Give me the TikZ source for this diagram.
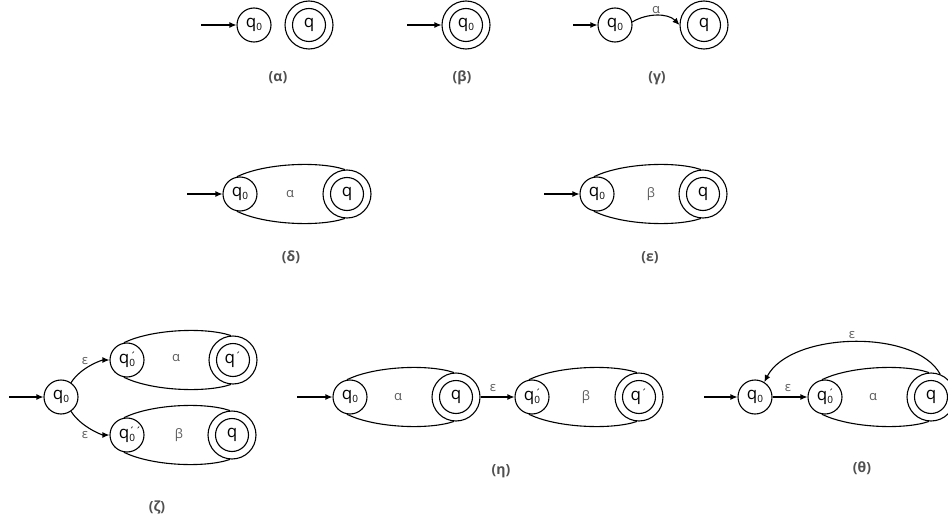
\documentclass[tikz,border=0pt]{standalone}
\usepackage{fontspec}
\setmainfont{Open Sans}
\usetikzlibrary{arrows.meta,calc}
\definecolor{capgray}{HTML}{505050}
\definecolor{lblgray}{HTML}{5A5A5A}
\newcommand\smallsub[1]{\raisebox{-2.5pt}{\fontsize{10}{10}\selectfont #1}}
\newcommand\smallacc[1]{\raisebox{3pt}{\fontsize{11}{11}\selectfont #1}}
\newcommand\qz{q\smallsub{0}}
\newcommand\qzp{q\rlap{\kern0.8pt\smallacc{´}}\smallsub{0}}
\newcommand\qzpp{q\rlap{\kern-0.4pt\smallacc{´´}}\smallsub{0}}
\newcommand\qpr{q\smallacc{´}}
\newcommand\blob[2]{%
  \draw[edge] (#1.100) .. controls ($(#1)+(25,-31)$) and ($(#2)+(-27,-33)$) .. (#2.95);
  \draw[edge] (#1.-100) .. controls ($(#1)+(25,31)$) and ($(#2)+(-27,33)$) .. (#2.-95);}
\begin{document}
\begin{tikzpicture}[x=1pt,y=-1pt,
  every node/.style={font=\fontsize{17}{19}\selectfont},
  st/.style={circle,draw,line width=1.1pt,minimum size=34pt,inner sep=0pt},
  acc/.style={circle,draw,line width=1.1pt,minimum size=48pt,inner sep=0pt,
    path picture={\draw[line width=1.1pt] (path picture bounding box.center) circle (16.5pt);}},
  edge/.style={line width=1.1pt},
  tr/.style={-{Latex[length=7pt,width=6pt]},line width=1.1pt},
  lbl/.style={text=lblgray,font=\fontsize{13}{15}\selectfont},
  capt/.style={text=capgray,font=\fontsize{14}{16}\selectfont\bfseries}]
\useasboundingbox (0,0) rectangle (948,519);
% (alpha)
\coordinate (a0) at (201,25);
\node[st] (a1) at (254,25) {\qz};
\node[acc] (a2) at (309,25) {q};
\draw[tr] (a0) -- (a1);
\node[capt] (ca) at (278,78) {(α)};
% (beta)
\coordinate (b0) at (407,25);
\node[acc] (b1) at (466,25) {\qz};
\draw[tr] (b0) -- (b1);
\node[capt] (cb) at (462,78) {(β)};
% (gamma)
\coordinate (g0) at (573,25);
\node[st] (g1) at (615,25) {\qz};
\node[acc] (g2) at (704,25) {q};
\draw[tr] (g0) -- (g1);
\draw[tr] (g1.10) .. controls ($(g1)+(32,-12)$) and ($(g2)+(-36,-12)$) .. (g2.180);
\node[lbl] (gl) at (656,10) {α};
\node[capt] (cg) at (657,78) {(γ)};
% (delta)
\coordinate (d0) at (187,194);
\node[st] (d1) at (240,194) {\qz};
\node[acc] (d2) at (347,194) {q};
\draw[tr] (d0) -- (d1);
\blob{d1}{d2}
\node[lbl] (dl) at (290,194) {α};
\node[capt] (cd) at (291,257) {(δ)};
% (epsilon)
\coordinate (e0) at (544,194);
\node[st] (e1) at (597,194) {\qz};
\node[acc] (e2) at (703,194) {q};
\draw[tr] (e0) -- (e1);
\blob{e1}{e2}
\node[lbl] (el) at (651,194) {β};
\node[capt] (ce) at (650,258) {(ε)};
% (zeta)
\coordinate (z0) at (9,397);
\node[st] (z1) at (61,397) {\qz};
\node[st] (z2) at (127,360) {\qzp};
\node[acc] (z3) at (233,360) {\qpr};
\node[st] (z4) at (127,435) {\qzpp};
\node[acc] (z5) at (232,435) {q};
\draw[tr] (z0) -- (z1);
\blob{z2}{z3}
\blob{z4}{z5}
\draw[tr] (z1.55) .. controls ($(z1)+(20,-30)$) and ($(z2)+(-25,0)$) .. (z2.180);
\draw[tr] (z1.-55) .. controls ($(z1)+(20,30)$) and ($(z4)+(-25,0)$) .. (z4.180);
\node[lbl] (zl1) at (85,361) {ε};
\node[lbl] (zl2) at (85,435) {ε};
\node[lbl] (zl3) at (176,358) {α};
\node[lbl] (zl4) at (179,435) {β};
\node[capt] (cz) at (157,507) {(ζ)};
% (eta)
\coordinate (h0) at (297,397);
\node[st] (h1) at (350,397) {\qz};
\node[acc] (h2) at (456,397) {q};
\node[st] (h3) at (532,397) {\qzp};
\node[acc] (h4) at (639,397) {\qpr};
\draw[tr] (h0) -- (h1);
\blob{h1}{h2}
\blob{h3}{h4}
\draw[tr] (h2) -- (h3);
\node[lbl] (hl1) at (398,397) {α};
\node[lbl] (hl2) at (493,388) {ε};
\node[lbl] (hl3) at (586,397) {β};
\node[capt] (ch) at (501,471) {(η)};
% (theta)
\coordinate (t0) at (704,397);
\node[st] (t1) at (755,397) {\qz};
\node[st] (t2) at (825,397) {\qzp};
\node[acc] (t3) at (931,397) {q};
\draw[tr] (t0) -- (t1);
\draw[tr] (t1) -- (t2);
\blob{t2}{t3}
\draw[tr] (t3.68) .. controls (915,328) and (790,332) .. (t1.58);
\node[lbl] (tl1) at (788,388) {ε};
\node[lbl] (tl2) at (852,335) {ε};
\node[lbl] (tl3) at (873,397) {α};
\node[capt] (ct) at (862,468) {(θ)};
\end{tikzpicture}
\end{document}
